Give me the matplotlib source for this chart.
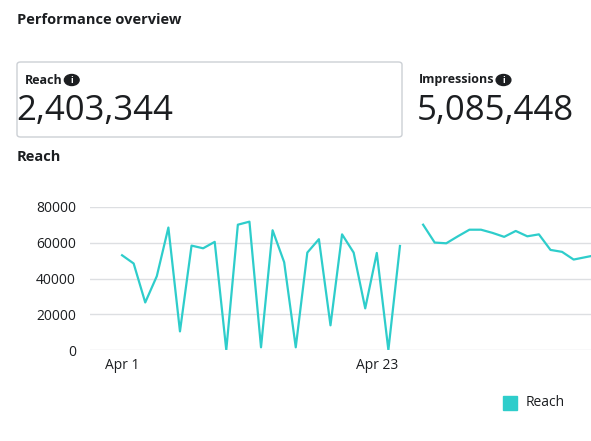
import numpy as np
import matplotlib.pyplot as plt
from matplotlib.patches import FancyBboxPatch, Circle

plt.rcParams['font.family'] = ['Open Sans', 'DejaVu Sans']

reach = [53000, 48400, 26600, 41300, 68500, 10400, 58400, 56900, 60500, 0,
         70100, 71800, 1500, 67000, 49100, 1500, 54500, 62000, 13800, 64700,
         54500, 23300, 54300, 0, 58200, np.nan, 70100, 60100, 59700, 63600,
         67300, 67300, 65500, 63300, 66600, 63600, 64700, 56000, 54900, 50600,
         51900, 53200]
tick_pos = [0, 22]
tick_labels = ["Apr 1", "Apr 23"]
yticks = [0, 20000, 40000, 60000, 80000]
total_reach = "2,403,344"
total_impr = "5,085,448"
teal = "#2ecdcb"
dark = "#1c1e21"

W, H = 591, 441
fig = plt.figure(figsize=(W / 100, H / 100), dpi=100)
renderer = fig.canvas.get_renderer()

def fx(x): return x / W
def fy(y): return 1 - y / H

fig.text(fx(17), fy(20), "Performance overview", fontsize=10.5, fontweight="bold",
         color=dark, va="center")
fig.patches.append(FancyBboxPatch((fx(17), fy(137)), fx(385), 75 / H,
                                  boxstyle="round,pad=0,rounding_size=0.006",
                                  transform=fig.transFigure, fill=False,
                                  edgecolor="#ccd0d5", lw=1))

def card(x, label, value):
    t = fig.text(fx(x), fy(80), label, fontsize=9, fontweight="bold",
                 color=dark, va="center")
    right = t.get_window_extent(renderer).x1
    cx = right + 9
    fig.patches.append(Circle((cx / W, fy(80)), 5.5 / H, transform=fig.transFigure,
                              color=dark))
    fig.text(cx / W, fy(80.5), "i", fontsize=6.5, fontweight="bold", color="white",
             ha="center", va="center")
    fig.text(fx(x - 9 if x < 100 else x - 2), fy(111), value, fontsize=25,
             color=dark, va="center")

card(25, "Reach", total_reach)
card(419, "Impressions", total_impr)

fig.text(fx(17), fy(157), "Reach", fontsize=10.5, fontweight="bold",
         color=dark, va="center")

ax = fig.add_axes([fx(90), fy(350), 1 - fx(90), (350 - 207) / H])
x = np.arange(len(reach))
ax.plot(x, reach, color=teal, lw=1.6)
ax.set_xlim(-2.77, 40.5)
ax.set_ylim(0, 80000)
ax.set_yticks(yticks)
ax.set_yticklabels([str(v) for v in yticks])
ax.set_xticks(tick_pos)
ax.set_xticklabels(tick_labels)
ax.grid(axis="y", color="#dddfe2", lw=1)
ax.set_axisbelow(True)
for s in ax.spines.values():
    s.set_visible(False)
ax.tick_params(length=0, labelsize=10, colors=dark)
ax.tick_params(axis="y", pad=10)
ax.tick_params(axis="x", pad=6)

fig.patches.append(FancyBboxPatch((fx(503), fy(410)), fx(14), 14 / H,
                                  boxstyle="square,pad=0", transform=fig.transFigure,
                                  color=teal))
fig.text(fx(526), fy(402), "Reach", fontsize=10, color=dark, va="center")

fig.savefig("out.png", dpi=100)
